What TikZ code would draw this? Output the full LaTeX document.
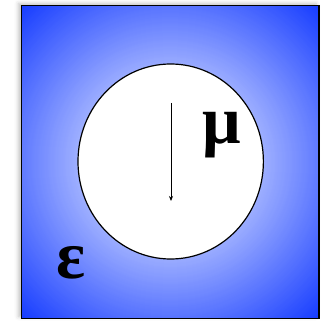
\documentclass[tikz,border=0pt]{standalone}
\usepackage{fontspec}
\setmainfont{Liberation Serif}
\usetikzlibrary{shadows.blur,arrows.meta}
\definecolor{bgB}{RGB}{158,175,255}
\definecolor{bgD}{RGB}{22,60,255}
\tikzset{
  panel/.style={draw=black, line width=1.5pt, fill=white,
    blur shadow={shadow xshift=-3pt, shadow yshift=2pt, shadow blur radius=4pt, shadow opacity=25}},
  hole/.style={draw=black, line width=1.2pt, fill=white},
  sym/.style={font=\fontsize{68}{70}\selectfont\bfseries, inner sep=0pt}
}
\begin{document}
\begin{tikzpicture}[x=1pt,y=-1pt]
\useasboundingbox (0,0) rectangle (322,321);
\path[panel] (21.5,5.5) rectangle (319,318.5);
\coordinate (c) at (170.25,162);
\begin{scope}
  \clip (21.5,5.5) rectangle (319,318.5);
  \foreach \r in {218,217,...,90} {
    \pgfmathtruncatemacro\t{max(0,min(100,100*(\r-93)/123))}
    \fill[bgD!\t!bgB] (c) circle [radius=\r];
  }
\end{scope}
\draw[line width=1.5pt] (21.5,5.5) rectangle (319,318.5);
\draw[hole] (170.7,161.5) ellipse [x radius=92.7, y radius=97.5];
\coordinate (a0) at (171,103);
\coordinate (a1) at (171,201);
\draw[line width=0.8pt, -{Stealth[length=5pt,width=4pt]}] (a0) -- (a1);
\node[sym] (mu) at (222,135) {μ};
\node[sym] (eps) at (71,263) {ε};
\end{tikzpicture}
\end{document}
